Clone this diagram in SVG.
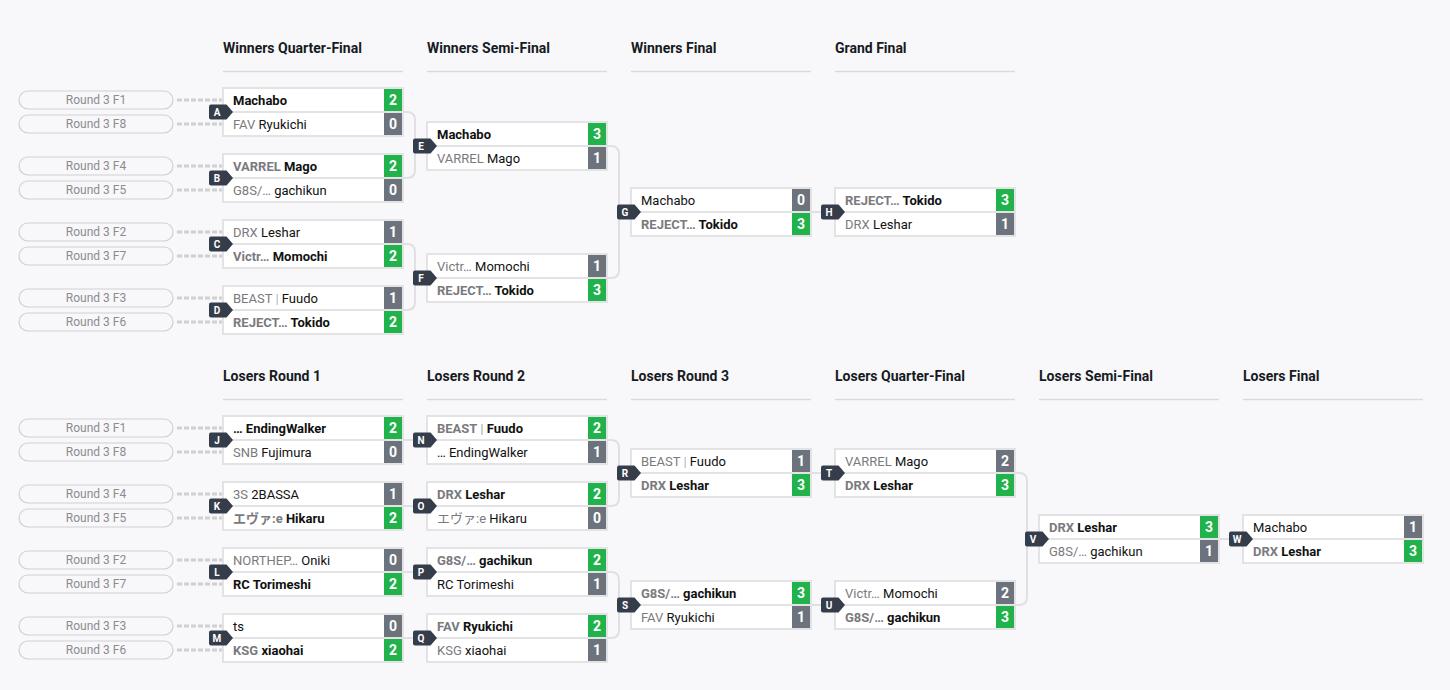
<svg xmlns="http://www.w3.org/2000/svg" xmlns:xlink="http://www.w3.org/1999/xlink" width="1450" height="690" viewBox="0 0 1450 690">
<style>
.hdr{font:700 14px Roboto,"Liberation Sans",sans-serif;fill:#161a22}
.hl{stroke:#d9d9de;stroke-width:1.5}
.pill{fill:#f8f8fa;stroke:#cfd0d4;stroke-width:1.2}
.pt{font:12px Roboto,"Liberation Sans",sans-serif;fill:#8a8c90;text-anchor:middle}
.dash{stroke:#cfd0d4;stroke-width:3;stroke-dasharray:5 2}
.box{fill:#fff;stroke:#e3e3e6;stroke-width:2}
.div{stroke:#e3e3e6;stroke-width:2}
.t{font:13px Roboto,"Noto Sans CJK JP","Liberation Sans",sans-serif;fill:#111}
.w{font-weight:700}
.tag{fill:#7a7a7e}
.sep{fill:#a9b3c2}
.sg{fill:#21b24b}
.sl{fill:#6c737c}
.sc{font:700 14px Roboto,"Liberation Sans",sans-serif;fill:#fff;text-anchor:middle}
.conn{stroke:#e0e0e4;stroke-width:2;fill:none}
.badge{fill:#353c4a}
.bl{font:700 10px Roboto,"Liberation Sans",sans-serif;fill:#fff;text-anchor:middle}
</style>
<defs>
<path id="badge" class="badge" d="M-12,-7.5 H3.5 L10,0 L3.5,7.5 H-12 Q-14,7.5 -14,5.5 V-5.5 Q-14,-7.5 -12,-7.5 Z"/>
</defs>
<rect width="1450" height="690" fill="#f8f8fa"/>

<g id="headers">
<text class="hdr" x="223" y="53">Winners Quarter-Final</text>
<text class="hdr" x="427" y="53">Winners Semi-Final</text>
<text class="hdr" x="631" y="53">Winners Final</text>
<text class="hdr" x="835" y="53">Grand Final</text>
<line class="hl" x1="223" y1="71.5" x2="403" y2="71.5"/>
<line class="hl" x1="427" y1="71.5" x2="607" y2="71.5"/>
<line class="hl" x1="631" y1="71.5" x2="811" y2="71.5"/>
<line class="hl" x1="835" y1="71.5" x2="1015" y2="71.5"/>
<text class="hdr" x="223" y="381">Losers Round 1</text>
<text class="hdr" x="427" y="381">Losers Round 2</text>
<text class="hdr" x="631" y="381">Losers Round 3</text>
<text class="hdr" x="835" y="381">Losers Quarter-Final</text>
<text class="hdr" x="1039" y="381">Losers Semi-Final</text>
<text class="hdr" x="1243" y="381">Losers Final</text>
<line class="hl" x1="223" y1="399.5" x2="403" y2="399.5"/>
<line class="hl" x1="427" y1="399.5" x2="607" y2="399.5"/>
<line class="hl" x1="631" y1="399.5" x2="811" y2="399.5"/>
<line class="hl" x1="835" y1="399.5" x2="1015" y2="399.5"/>
<line class="hl" x1="1039" y1="399.5" x2="1219" y2="399.5"/>
<line class="hl" x1="1243" y1="399.5" x2="1423" y2="399.5"/>
</g>

<g id="sources">
<line class="dash" x1="177" y1="100" x2="222" y2="100"/><rect class="pill" x="19" y="91" width="154" height="18" rx="9"/><text class="pt" x="96" y="104">Round 3 F1</text>
<line class="dash" x1="177" y1="124" x2="222" y2="124"/><rect class="pill" x="19" y="115" width="154" height="18" rx="9"/><text class="pt" x="96" y="128">Round 3 F8</text>
<line class="dash" x1="177" y1="166" x2="222" y2="166"/><rect class="pill" x="19" y="157" width="154" height="18" rx="9"/><text class="pt" x="96" y="170">Round 3 F4</text>
<line class="dash" x1="177" y1="190" x2="222" y2="190"/><rect class="pill" x="19" y="181" width="154" height="18" rx="9"/><text class="pt" x="96" y="194">Round 3 F5</text>
<line class="dash" x1="177" y1="232" x2="222" y2="232"/><rect class="pill" x="19" y="223" width="154" height="18" rx="9"/><text class="pt" x="96" y="236">Round 3 F2</text>
<line class="dash" x1="177" y1="256" x2="222" y2="256"/><rect class="pill" x="19" y="247" width="154" height="18" rx="9"/><text class="pt" x="96" y="260">Round 3 F7</text>
<line class="dash" x1="177" y1="298" x2="222" y2="298"/><rect class="pill" x="19" y="289" width="154" height="18" rx="9"/><text class="pt" x="96" y="302">Round 3 F3</text>
<line class="dash" x1="177" y1="322" x2="222" y2="322"/><rect class="pill" x="19" y="313" width="154" height="18" rx="9"/><text class="pt" x="96" y="326">Round 3 F6</text>
<line class="dash" x1="177" y1="428" x2="222" y2="428"/><rect class="pill" x="19" y="419" width="154" height="18" rx="9"/><text class="pt" x="96" y="432">Round 3 F1</text>
<line class="dash" x1="177" y1="452" x2="222" y2="452"/><rect class="pill" x="19" y="443" width="154" height="18" rx="9"/><text class="pt" x="96" y="456">Round 3 F8</text>
<line class="dash" x1="177" y1="494" x2="222" y2="494"/><rect class="pill" x="19" y="485" width="154" height="18" rx="9"/><text class="pt" x="96" y="498">Round 3 F4</text>
<line class="dash" x1="177" y1="518" x2="222" y2="518"/><rect class="pill" x="19" y="509" width="154" height="18" rx="9"/><text class="pt" x="96" y="522">Round 3 F5</text>
<line class="dash" x1="177" y1="560" x2="222" y2="560"/><rect class="pill" x="19" y="551" width="154" height="18" rx="9"/><text class="pt" x="96" y="564">Round 3 F2</text>
<line class="dash" x1="177" y1="584" x2="222" y2="584"/><rect class="pill" x="19" y="575" width="154" height="18" rx="9"/><text class="pt" x="96" y="588">Round 3 F7</text>
<line class="dash" x1="177" y1="626" x2="222" y2="626"/><rect class="pill" x="19" y="617" width="154" height="18" rx="9"/><text class="pt" x="96" y="630">Round 3 F3</text>
<line class="dash" x1="177" y1="650" x2="222" y2="650"/><rect class="pill" x="19" y="641" width="154" height="18" rx="9"/><text class="pt" x="96" y="654">Round 3 F6</text>
</g>

<g id="connectors">
<path class="conn" d="M403,112 H407 Q415,112 415,120 V170 Q415,178 407,178 H403 M415,146 H427"/>
<path class="conn" d="M403,244 H407 Q415,244 415,252 V302 Q415,310 407,310 H403 M415,278 H427"/>
<path class="conn" d="M607,146 H611 Q619,146 619,154 V270 Q619,278 611,278 H607 M619,212 H631"/>
<path class="conn" d="M811,212 H835"/>
<path class="conn" d="M403,440 H427 M403,506 H427 M403,572 H427 M403,638 H427"/>
<path class="conn" d="M607,440 H611 Q619,440 619,448 V498 Q619,506 611,506 H607 M619,473 H631"/>
<path class="conn" d="M607,572 H611 Q619,572 619,580 V630 Q619,638 611,638 H607 M619,605 H631"/>
<path class="conn" d="M811,473 H835 M811,605 H835"/>
<path class="conn" d="M1015,473 H1019 Q1027,473 1027,481 V597 Q1027,605 1019,605 H1015 M1027,539 H1039"/>
<path class="conn" d="M1219,539 H1243"/>
</g>

<g id="match-A">
<rect class="box" x="223" y="88" width="180" height="48"/><line class="div" x1="223" y1="112" x2="403" y2="112"/>
<text class="t w" x="233" y="105">Machabo</text><rect class="sg" x="384" y="89" width="18" height="22"/><text class="sc" x="393" y="105">2</text>
<text class="t" x="233" y="129"><tspan class="tag">FAV </tspan>Ryukichi</text><rect class="sl" x="384" y="113" width="18" height="22"/><text class="sc" x="393" y="129">0</text>
<use href="#badge" x="223" y="112"/><text class="bl" x="217" y="116">A</text>
</g>
<g id="match-B">
<rect class="box" x="223" y="154" width="180" height="48"/><line class="div" x1="223" y1="178" x2="403" y2="178"/>
<text class="t w" x="233" y="171"><tspan class="tag">VARREL </tspan>Mago</text><rect class="sg" x="384" y="155" width="18" height="22"/><text class="sc" x="393" y="171">2</text>
<text class="t" x="233" y="195"><tspan class="tag">G8S/… </tspan>gachikun</text><rect class="sl" x="384" y="179" width="18" height="22"/><text class="sc" x="393" y="195">0</text>
<use href="#badge" x="223" y="178"/><text class="bl" x="217" y="182">B</text>
</g>
<g id="match-C">
<rect class="box" x="223" y="220" width="180" height="48"/><line class="div" x1="223" y1="244" x2="403" y2="244"/>
<text class="t" x="233" y="237"><tspan class="tag">DRX </tspan>Leshar</text><rect class="sl" x="384" y="221" width="18" height="22"/><text class="sc" x="393" y="237">1</text>
<text class="t w" x="233" y="261"><tspan class="tag">Victr… </tspan>Momochi</text><rect class="sg" x="384" y="245" width="18" height="22"/><text class="sc" x="393" y="261">2</text>
<use href="#badge" x="223" y="244"/><text class="bl" x="217" y="248">C</text>
</g>
<g id="match-D">
<rect class="box" x="223" y="286" width="180" height="48"/><line class="div" x1="223" y1="310" x2="403" y2="310"/>
<text class="t" x="233" y="303"><tspan class="tag">BEAST </tspan><tspan class="sep">| </tspan>Fuudo</text><rect class="sl" x="384" y="287" width="18" height="22"/><text class="sc" x="393" y="303">1</text>
<text class="t w" x="233" y="327"><tspan class="tag">REJECT… </tspan>Tokido</text><rect class="sg" x="384" y="311" width="18" height="22"/><text class="sc" x="393" y="327">2</text>
<use href="#badge" x="223" y="310"/><text class="bl" x="217" y="314">D</text>
</g>
<g id="match-E">
<rect class="box" x="427" y="122" width="180" height="48"/><line class="div" x1="427" y1="146" x2="607" y2="146"/>
<text class="t w" x="437" y="139">Machabo</text><rect class="sg" x="588" y="123" width="18" height="22"/><text class="sc" x="597" y="139">3</text>
<text class="t" x="437" y="163"><tspan class="tag">VARREL </tspan>Mago</text><rect class="sl" x="588" y="147" width="18" height="22"/><text class="sc" x="597" y="163">1</text>
<use href="#badge" x="427" y="146"/><text class="bl" x="421" y="150">E</text>
</g>
<g id="match-F">
<rect class="box" x="427" y="254" width="180" height="48"/><line class="div" x1="427" y1="278" x2="607" y2="278"/>
<text class="t" x="437" y="271"><tspan class="tag">Victr… </tspan>Momochi</text><rect class="sl" x="588" y="255" width="18" height="22"/><text class="sc" x="597" y="271">1</text>
<text class="t w" x="437" y="295"><tspan class="tag">REJECT… </tspan>Tokido</text><rect class="sg" x="588" y="279" width="18" height="22"/><text class="sc" x="597" y="295">3</text>
<use href="#badge" x="427" y="278"/><text class="bl" x="421" y="282">F</text>
</g>
<g id="match-G">
<rect class="box" x="631" y="188" width="180" height="48"/><line class="div" x1="631" y1="212" x2="811" y2="212"/>
<text class="t" x="641" y="205">Machabo</text><rect class="sl" x="792" y="189" width="18" height="22"/><text class="sc" x="801" y="205">0</text>
<text class="t w" x="641" y="229"><tspan class="tag">REJECT… </tspan>Tokido</text><rect class="sg" x="792" y="213" width="18" height="22"/><text class="sc" x="801" y="229">3</text>
<use href="#badge" x="631" y="212"/><text class="bl" x="625" y="216">G</text>
</g>
<g id="match-H">
<rect class="box" x="835" y="188" width="180" height="48"/><line class="div" x1="835" y1="212" x2="1015" y2="212"/>
<text class="t w" x="845" y="205"><tspan class="tag">REJECT… </tspan>Tokido</text><rect class="sg" x="996" y="189" width="18" height="22"/><text class="sc" x="1005" y="205">3</text>
<text class="t" x="845" y="229"><tspan class="tag">DRX </tspan>Leshar</text><rect class="sl" x="996" y="213" width="18" height="22"/><text class="sc" x="1005" y="229">1</text>
<use href="#badge" x="835" y="212"/><text class="bl" x="829" y="216">H</text>
</g>

<g id="match-J">
<rect class="box" x="223" y="416" width="180" height="48"/><line class="div" x1="223" y1="440" x2="403" y2="440"/>
<text class="t w" x="233" y="433">… EndingWalker</text><rect class="sg" x="384" y="417" width="18" height="22"/><text class="sc" x="393" y="433">2</text>
<text class="t" x="233" y="457"><tspan class="tag">SNB </tspan>Fujimura</text><rect class="sl" x="384" y="441" width="18" height="22"/><text class="sc" x="393" y="457">0</text>
<use href="#badge" x="223" y="440"/><text class="bl" x="217" y="444">J</text>
</g>
<g id="match-K">
<rect class="box" x="223" y="482" width="180" height="48"/><line class="div" x1="223" y1="506" x2="403" y2="506"/>
<text class="t" x="233" y="499"><tspan class="tag">3S </tspan>2BASSA</text><rect class="sl" x="384" y="483" width="18" height="22"/><text class="sc" x="393" y="499">1</text>
<text class="t w" x="233" y="523"><tspan class="tag">エヴァ:e </tspan>Hikaru</text><rect class="sg" x="384" y="507" width="18" height="22"/><text class="sc" x="393" y="523">2</text>
<use href="#badge" x="223" y="506"/><text class="bl" x="217" y="510">K</text>
</g>
<g id="match-L">
<rect class="box" x="223" y="548" width="180" height="48"/><line class="div" x1="223" y1="572" x2="403" y2="572"/>
<text class="t" x="233" y="565"><tspan class="tag">NORTHEP… </tspan>Oniki</text><rect class="sl" x="384" y="549" width="18" height="22"/><text class="sc" x="393" y="565">0</text>
<text class="t w" x="233" y="589">RC Torimeshi</text><rect class="sg" x="384" y="573" width="18" height="22"/><text class="sc" x="393" y="589">2</text>
<use href="#badge" x="223" y="572"/><text class="bl" x="217" y="576">L</text>
</g>
<g id="match-M">
<rect class="box" x="223" y="614" width="180" height="48"/><line class="div" x1="223" y1="638" x2="403" y2="638"/>
<text class="t" x="233" y="631">ts</text><rect class="sl" x="384" y="615" width="18" height="22"/><text class="sc" x="393" y="631">0</text>
<text class="t w" x="233" y="655"><tspan class="tag">KSG </tspan>xiaohai</text><rect class="sg" x="384" y="639" width="18" height="22"/><text class="sc" x="393" y="655">2</text>
<use href="#badge" x="223" y="638"/><text class="bl" x="217" y="642">M</text>
</g>
<g id="match-N">
<rect class="box" x="427" y="416" width="180" height="48"/><line class="div" x1="427" y1="440" x2="607" y2="440"/>
<text class="t w" x="437" y="433"><tspan class="tag">BEAST </tspan><tspan class="sep">| </tspan>Fuudo</text><rect class="sg" x="588" y="417" width="18" height="22"/><text class="sc" x="597" y="433">2</text>
<text class="t" x="437" y="457">… EndingWalker</text><rect class="sl" x="588" y="441" width="18" height="22"/><text class="sc" x="597" y="457">1</text>
<use href="#badge" x="427" y="440"/><text class="bl" x="421" y="444">N</text>
</g>
<g id="match-O">
<rect class="box" x="427" y="482" width="180" height="48"/><line class="div" x1="427" y1="506" x2="607" y2="506"/>
<text class="t w" x="437" y="499"><tspan class="tag">DRX </tspan>Leshar</text><rect class="sg" x="588" y="483" width="18" height="22"/><text class="sc" x="597" y="499">2</text>
<text class="t" x="437" y="523"><tspan class="tag">エヴァ:e </tspan>Hikaru</text><rect class="sl" x="588" y="507" width="18" height="22"/><text class="sc" x="597" y="523">0</text>
<use href="#badge" x="427" y="506"/><text class="bl" x="421" y="510">O</text>
</g>
<g id="match-P">
<rect class="box" x="427" y="548" width="180" height="48"/><line class="div" x1="427" y1="572" x2="607" y2="572"/>
<text class="t w" x="437" y="565"><tspan class="tag">G8S/… </tspan>gachikun</text><rect class="sg" x="588" y="549" width="18" height="22"/><text class="sc" x="597" y="565">2</text>
<text class="t" x="437" y="589">RC Torimeshi</text><rect class="sl" x="588" y="573" width="18" height="22"/><text class="sc" x="597" y="589">1</text>
<use href="#badge" x="427" y="572"/><text class="bl" x="421" y="576">P</text>
</g>
<g id="match-Q">
<rect class="box" x="427" y="614" width="180" height="48"/><line class="div" x1="427" y1="638" x2="607" y2="638"/>
<text class="t w" x="437" y="631"><tspan class="tag">FAV </tspan>Ryukichi</text><rect class="sg" x="588" y="615" width="18" height="22"/><text class="sc" x="597" y="631">2</text>
<text class="t" x="437" y="655"><tspan class="tag">KSG </tspan>xiaohai</text><rect class="sl" x="588" y="639" width="18" height="22"/><text class="sc" x="597" y="655">1</text>
<use href="#badge" x="427" y="638"/><text class="bl" x="421" y="642">Q</text>
</g>
<g id="match-R">
<rect class="box" x="631" y="449" width="180" height="48"/><line class="div" x1="631" y1="473" x2="811" y2="473"/>
<text class="t" x="641" y="466"><tspan class="tag">BEAST </tspan><tspan class="sep">| </tspan>Fuudo</text><rect class="sl" x="792" y="450" width="18" height="22"/><text class="sc" x="801" y="466">1</text>
<text class="t w" x="641" y="490"><tspan class="tag">DRX </tspan>Leshar</text><rect class="sg" x="792" y="474" width="18" height="22"/><text class="sc" x="801" y="490">3</text>
<use href="#badge" x="631" y="473"/><text class="bl" x="625" y="477">R</text>
</g>
<g id="match-S">
<rect class="box" x="631" y="581" width="180" height="48"/><line class="div" x1="631" y1="605" x2="811" y2="605"/>
<text class="t w" x="641" y="598"><tspan class="tag">G8S/… </tspan>gachikun</text><rect class="sg" x="792" y="582" width="18" height="22"/><text class="sc" x="801" y="598">3</text>
<text class="t" x="641" y="622"><tspan class="tag">FAV </tspan>Ryukichi</text><rect class="sl" x="792" y="606" width="18" height="22"/><text class="sc" x="801" y="622">1</text>
<use href="#badge" x="631" y="605"/><text class="bl" x="625" y="609">S</text>
</g>
<g id="match-T">
<rect class="box" x="835" y="449" width="180" height="48"/><line class="div" x1="835" y1="473" x2="1015" y2="473"/>
<text class="t" x="845" y="466"><tspan class="tag">VARREL </tspan>Mago</text><rect class="sl" x="996" y="450" width="18" height="22"/><text class="sc" x="1005" y="466">2</text>
<text class="t w" x="845" y="490"><tspan class="tag">DRX </tspan>Leshar</text><rect class="sg" x="996" y="474" width="18" height="22"/><text class="sc" x="1005" y="490">3</text>
<use href="#badge" x="835" y="473"/><text class="bl" x="829" y="477">T</text>
</g>
<g id="match-U">
<rect class="box" x="835" y="581" width="180" height="48"/><line class="div" x1="835" y1="605" x2="1015" y2="605"/>
<text class="t" x="845" y="598"><tspan class="tag">Victr… </tspan>Momochi</text><rect class="sl" x="996" y="582" width="18" height="22"/><text class="sc" x="1005" y="598">2</text>
<text class="t w" x="845" y="622"><tspan class="tag">G8S/… </tspan>gachikun</text><rect class="sg" x="996" y="606" width="18" height="22"/><text class="sc" x="1005" y="622">3</text>
<use href="#badge" x="835" y="605"/><text class="bl" x="829" y="609">U</text>
</g>
<g id="match-V">
<rect class="box" x="1039" y="515" width="180" height="48"/><line class="div" x1="1039" y1="539" x2="1219" y2="539"/>
<text class="t w" x="1049" y="532"><tspan class="tag">DRX </tspan>Leshar</text><rect class="sg" x="1200" y="516" width="18" height="22"/><text class="sc" x="1209" y="532">3</text>
<text class="t" x="1049" y="556"><tspan class="tag">G8S/… </tspan>gachikun</text><rect class="sl" x="1200" y="540" width="18" height="22"/><text class="sc" x="1209" y="556">1</text>
<use href="#badge" x="1039" y="539"/><text class="bl" x="1033" y="543">V</text>
</g>
<g id="match-W">
<rect class="box" x="1243" y="515" width="180" height="48"/><line class="div" x1="1243" y1="539" x2="1423" y2="539"/>
<text class="t" x="1253" y="532">Machabo</text><rect class="sl" x="1404" y="516" width="18" height="22"/><text class="sc" x="1413" y="532">1</text>
<text class="t w" x="1253" y="556"><tspan class="tag">DRX </tspan>Leshar</text><rect class="sg" x="1404" y="540" width="18" height="22"/><text class="sc" x="1413" y="556">3</text>
<use href="#badge" x="1243" y="539"/><text class="bl" x="1237" y="543">W</text>
</g>
</svg>
